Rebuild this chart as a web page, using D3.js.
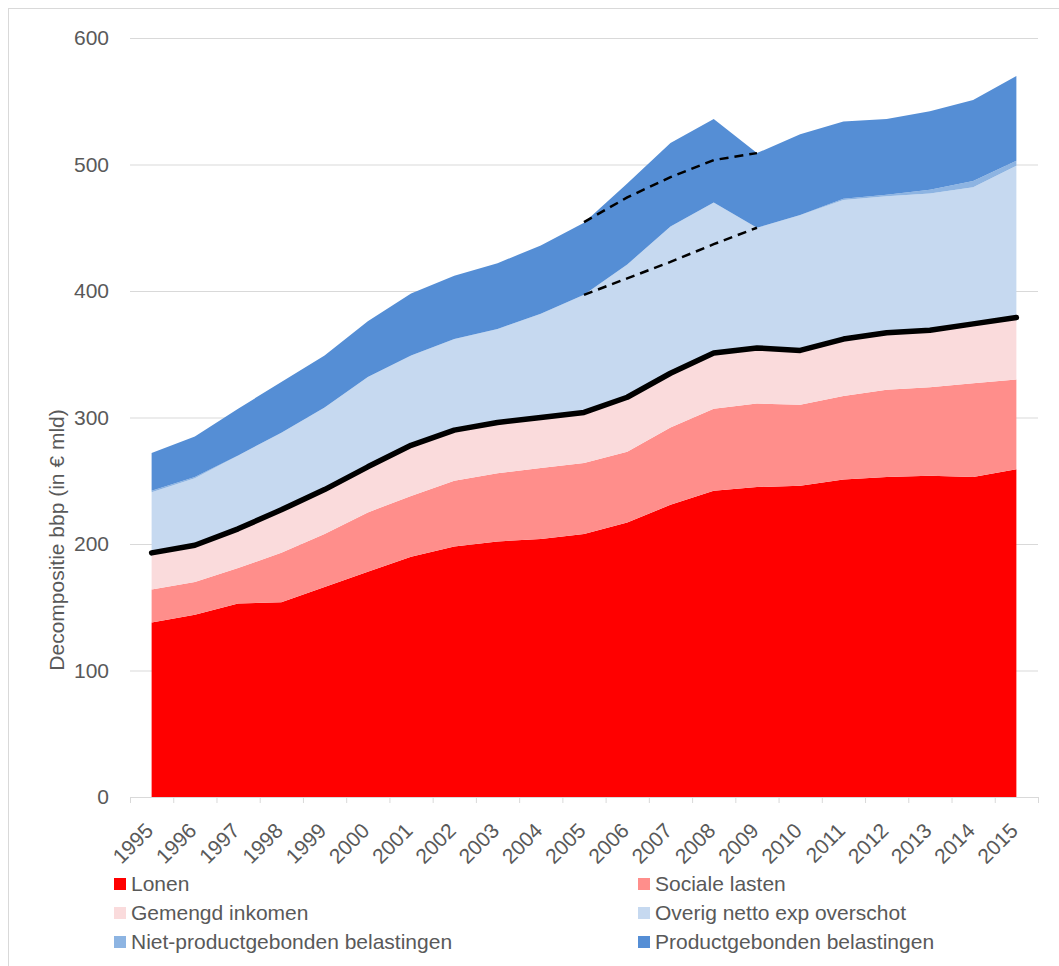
<!DOCTYPE html>
<html>
<head>
<meta charset="utf-8">
<script src="https://cdn.jsdelivr.net/npm/d3@7"></script>
<style>
  body{margin:0;background:#fff}
  svg{display:block}
  text{font-family:"Liberation Sans",Arial,sans-serif;fill:#595959}
</style>
</head>
<body>
<svg id="chart" width="1059" height="966"></svg>
<script>
// ===== data =====
const years   = [1995,1996,1997,1998,1999,2000,2001,2002,2003,2004,2005,2006,2007,2008,2009,2010,2011,2012,2013,2014,2015];
const lonen   = [138,144,153,154,166,178,190,198,202,204,208,217,231,242,245,246,251,253,254,253,259];
const sociale = [26,26,28,39,42,47,48,52,54,56,56,56,61,65,66,64,66,69,70,74,71];
const gemengd = [29,29,31,34,35,36,40,40,40,40,40,43,43,44,44,43,45,45,45,47,49];
const overig  = [48,53,58,61,65,71,71,72,74,82,93,105,116,119,95,107,110,108,108,108,120];
const niet    = [1,1,0,0,0,0,0,0,0,0,0,0,0,0,0,0,1,1,3,5,4];
const product = [30,32,37,40,41,44,49,50,52,54,57,64,66,66,59,64,61,60,62,64,67];

// trend lines (dashed) 2005-2009
const trendYears = [2005,2006,2007,2008,2009];
const trendHigh  = [454.5,474,490,503.5,509];
const trendLow   = [397,410,423,437,450];

const yTicks = [0,100,200,300,400,500,600];

const keys   = ["lonen","sociale","gemengd","overig","niet","product"];
const names  = ["Lonen","Sociale lasten","Gemengd inkomen","Overig netto exp overschot","Niet-productgebonden belastingen","Productgebonden belastingen"];
const colors = ["#FF0000","#FF8E8B","#FADBDC","#C6D9F0","#8DB4E2","#558ED5"];

const series = {lonen, sociale, gemengd, overig, niet, product};
const table = years.map((yr,i) => {
  const row = {year: yr};
  keys.forEach(k => row[k] = series[k][i]);
  return row;
});
const stacked = d3.stack().keys(keys)(table);

// ===== chart setup =====
const svg = d3.select("#chart");
const M = {top:38, right:21, bottom:169, left:130};
const W = 1059, H = 966;
const innerW = W - M.left - M.right;   // 908
const innerH = H - M.top - M.bottom;   // 759

svg.append("rect")
  .attr("x",8.5).attr("y",8.5).attr("width",1200).attr("height",1200)
  .attr("fill","none").attr("stroke","#D9D9D9");

const x = d3.scaleBand().domain(years).range([M.left, M.left + innerW]);
const cx = yr => x(yr) + x.bandwidth()/2;
const y = d3.scaleLinear().domain([0,600]).range([M.top + innerH, M.top]);
const xb = d3.scaleLinear().domain([0, years.length]).range([M.left, M.left + innerW]);

// grid + y labels
const gy = svg.append("g")
  .attr("transform",`translate(${M.left},0)`)
  .call(d3.axisLeft(y).tickValues(yTicks).tickSize(-innerW).tickPadding(21));
gy.select(".domain").remove();
gy.selectAll("line").attr("stroke","#D9D9D9");
gy.selectAll("text").attr("font-size","21px").attr("fill","#595959")
  .style("font-family",'"Liberation Sans",Arial,sans-serif');

// areas
const area = d3.area()
  .x(d => cx(d.data.year))
  .y0(d => y(d[0]))
  .y1(d => y(d[1]));

svg.append("g").selectAll("path")
  .data(stacked)
  .join("path")
  .attr("fill",(d,i) => colors[i])
  .attr("d",area);

// x axis with ticks on category boundaries
const gx = svg.append("g")
  .attr("transform",`translate(0,${M.top + innerH})`)
  .call(d3.axisBottom(xb).tickValues(d3.range(years.length + 1)).tickSize(6).tickFormat(""));
gx.selectAll("line,path").attr("stroke","#D9D9D9");

const gl = svg.append("g")
  .attr("transform",`translate(0,${M.top + innerH})`)
  .call(d3.axisBottom(x).tickSize(0).tickPadding(0));
gl.select(".domain").remove();
gl.selectAll("text")
  .attr("y",0).attr("dy",0)
  .attr("text-anchor","end")
  .attr("transform","translate(3,35) rotate(-45)")
  .attr("font-size","21px").attr("fill","#595959")
  .style("font-family",'"Liberation Sans",Arial,sans-serif');

// black total line (lonen + sociale + gemengd)
const line = d3.line().x(d => cx(d.data.year)).y(d => y(d[1]));
svg.append("path")
  .attr("d", line(stacked[2]))
  .attr("fill","none").attr("stroke","#000")
  .attr("stroke-width",5.5).attr("stroke-linejoin","round").attr("stroke-linecap","round");

// dashed trend lines
const tline = d3.line().x((d,i) => cx(trendYears[i])).y(d => y(d));
[trendHigh, trendLow].forEach(t => {
  svg.append("path")
    .attr("d", tline(t))
    .attr("fill","none").attr("stroke","#000")
    .attr("stroke-width",2.5).attr("stroke-dasharray","9,6");
});

// y title
svg.append("text")
  .attr("transform","translate(64,540) rotate(-90)")
  .attr("text-anchor","middle")
  .attr("font-size","21px")
  .text("Decompositie bbp (in € mld)");

// legend
const lg = svg.append("g");
names.forEach((n,i) => {
  const col = i % 2, row = Math.floor(i / 2);
  const lx = col === 0 ? 114 : 638;
  const ly = 884 + row * 29;
  lg.append("rect").attr("x",lx).attr("y",ly - 6).attr("width",12).attr("height",12).attr("fill",colors[i]);
  lg.append("text").attr("x",lx + 17).attr("y",ly + 7).attr("font-size","21px").text(n);
});
</script>
</body>
</html>
